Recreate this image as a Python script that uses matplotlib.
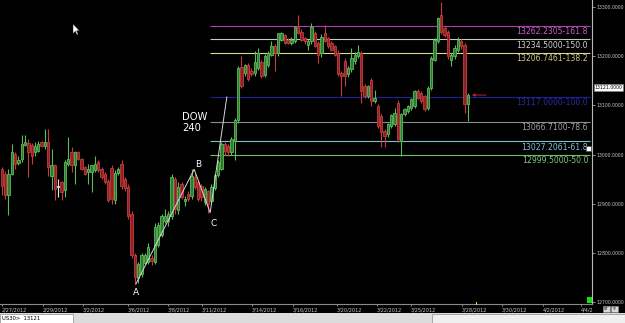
import matplotlib
matplotlib.use('Agg')
import matplotlib.pyplot as plt
import numpy as np
from matplotlib.patches import Rectangle, Polygon
from matplotlib.transforms import Bbox, TransformedBbox
from matplotlib.ticker import FormatStrFormatter

# ---------------- data (US30, H4) ----------------
opens = [12971, 12960, 12918, 12961, 13001, 12983, 12991, 13019, 13023, 13019,
         13005, 13008, 13025, 13018, 13025, 12957, 12978, 12934, 12944, 12927,
         12981, 13005, 12978, 13005, 12991, 12974, 12964, 12964, 12968, 12984,
         12971, 12961, 12947, 12973, 12908, 12963, 12980, 12950, 12935, 12880,
         12795, 12750, 12758, 12780, 12782, 12790, 12782, 12816, 12836, 12866,
         12866, 12876, 12950, 12888, 12940, 12905, 12920, 12915, 12955, 12944,
         12937, 12903, 12925, 12906, 12932, 12958, 12971, 13021, 13018, 13005,
         13027, 13071, 13179, 13166, 13183, 13170, 13166, 13176, 13189, 13162,
         13183, 13203, 13220, 13206, 13233, 13243, 13233, 13227, 13230, 13260,
         13250, 13237, 13222, 13230, 13247, 13227, 13206, 13247, 13237, 13227,
         13220, 13206, 13166, 13190, 13163, 13173, 13190, 13200, 13206, 13139,
         13120, 13152, 13109, 13099, 13078, 13048, 13041, 13058, 13062, 13105,
         13028, 13082, 13088, 13095, 13098, 13129, 13126, 13119, 13095, 13136,
         13193, 13230, 13284, 13257, 13250, 13193, 13200, 13213, 13230, 13223,
         13102]
highs = [12974, 12966, 12971, 13022, 13005, 12998, 13040, 13040, 13032, 13023,
         13025, 13027, 13028, 13052, 13053, 13011, 12981, 12951, 12947, 12988,
         13035, 13015, 13008, 13008, 12994, 12977, 12981, 12978, 12998, 12988,
         12974, 12964, 12950, 12978, 12968, 12975, 12988, 12955, 12940, 12885,
         12800, 12782, 12800, 12800, 12820, 12795, 12860, 12862, 12880, 12890,
         12885, 12960, 12955, 12945, 12945, 12915, 12925, 12970, 12962, 12948,
         12940, 12935, 12928, 12940, 12962, 12988, 13025, 13025, 13021, 13035,
         13075, 13180, 13200, 13185, 13186, 13175, 13210, 13216, 13193, 13205,
         13210, 13230, 13224, 13248, 13250, 13246, 13236, 13240, 13262, 13284,
         13255, 13240, 13235, 13268, 13252, 13230, 13245, 13264, 13240, 13230,
         13223, 13213, 13170, 13196, 13180, 13216, 13208, 13222, 13210, 13143,
         13142, 13156, 13132, 13102, 13082, 13052, 13065, 13082, 13094, 13110,
         13085, 13095, 13100, 13114, 13132, 13133, 13130, 13122, 13140, 13200,
         13236, 13280, 13310, 13262, 13254, 13206, 13222, 13240, 13234, 13227,
         13126]
lows = [12917, 12910, 12877, 12958, 12971, 12979, 12984, 13017, 12954, 12981,
        12998, 13005, 13015, 13012, 12957, 12927, 12907, 12914, 12907, 12914,
        12977, 12964, 12941, 12988, 12968, 12958, 12941, 12924, 12964, 12964,
        12950, 12940, 12904, 12900, 12900, 12958, 12930, 12925, 12870, 12790,
        12737, 12740, 12752, 12775, 12778, 12776, 12778, 12812, 12832, 12860,
        12855, 12870, 12880, 12880, 12910, 12895, 12905, 12910, 12930, 12905,
        12905, 12898, 12882, 12900, 12928, 12955, 12968, 13000, 12998, 13000,
        12990, 13065, 13135, 13160, 13150, 13160, 13160, 13172, 13155, 13158,
        13178, 13200, 13170, 13200, 13230, 13225, 13225, 13222, 13226, 13245,
        13230, 13225, 13213, 13225, 13218, 13186, 13198, 13228, 13217, 13210,
        13200, 13160, 13119, 13140, 13158, 13168, 13185, 13196, 13105, 13115,
        13116, 13099, 13104, 13055, 13015, 13015, 13036, 13055, 13058, 13025,
        12998, 13078, 13084, 13090, 13094, 13112, 13105, 13088, 13090, 13132,
        13190, 13226, 13245, 13238, 13195, 13180, 13195, 13208, 13215, 13085,
        13069]
closes = [12937, 12917, 12961, 13005, 12981, 12990, 13021, 13025, 13005, 12998,
          13018, 13021, 13018, 13025, 12974, 12978, 12931, 12934, 12924, 12984,
          12991, 12978, 13005, 12991, 12971, 12961, 12971, 12978, 12981, 12968,
          12954, 12944, 12907, 12910, 12963, 12970, 12937, 12932, 12876, 12795,
          12752, 12778, 12795, 12795, 12812, 12784, 12853, 12856, 12876, 12876,
          12880, 12954, 12890, 12935, 12913, 12910, 12910, 12957, 12934, 12910,
          12913, 12930, 12900, 12934, 12958, 12984, 13021, 13007, 13005, 13031,
          13071, 13176, 13139, 13183, 13153, 13163, 13189, 13206, 13160, 13200,
          13206, 13220, 13206, 13247, 13247, 13227, 13227, 13233, 13260, 13247,
          13233, 13230, 13230, 13260, 13220, 13203, 13240, 13230, 13220, 13213,
          13203, 13163, 13159, 13159, 13176, 13196, 13203, 13208, 13129, 13119,
          13139, 13109, 13115, 13058, 13045, 13038, 13062, 13080, 13085, 13031,
          13082, 13092, 13098, 13112, 13129, 13116, 13109, 13092, 13136, 13196,
          13233, 13277, 13250, 13243, 13200, 13203, 13217, 13233, 13220, 13102,
          13121]

date_labels = ['2/27/2012', '2/29/2012', '3/2/2012', '3/6/2012', '3/8/2012',
               '3/11/2012', '3/14/2012', '3/16/2012', '3/20/2012', '3/22/2012',
               '3/25/2012', '3/28/2012', '3/30/2012', '4/2/2012', '4/4/2012']
date_pos = [0, 12.3, 24.4, 37.9, 49.9, 60.1, 75.2, 87.5, 100.7, 112.7,
            122.9, 138.2, 150.2, 162.5, 174.0]

price_ticks = [12700, 12800, 12900, 13000, 13100, 13200, 13300]

fib_levels = [13262.2305, 13234.5000, 13206.7461, 13117.0000, 13066.7100, 13027.2061, 12999.5000]
fib_pcts = ['161.8', '150.0', '138.2', '100.0', '78.6', '61.8', '50.0']
fib_line_colors = ['#b040b0', '#c8c8c8', '#d8d890', '#20209a', '#8c8c8c', '#78c4c8', '#6cbc6c']
fib_text_colors = ['#c860c8', '#d0d0d0', '#c8c880', '#2a2aa8', '#a0a0a0', '#80c4d4', '#80c880']

pattern_x = [40.3, 57.8, 62.6, 67.6]
pattern_y = [12737, 12970, 12882, 13117]
last_price = 13121.0

# ---------------- figure ----------------
W, H = 625, 323
fig = plt.figure(figsize=(W / 100, H / 100), dpi=100, facecolor='black')
ax = fig.add_axes([0, 19 / H, 592 / W, 304 / H], facecolor='black')

O = np.array(opens, float); Hh = np.array(highs, float)
L = np.array(lows, float); C = np.array(closes, float)
x = np.arange(len(C))

edge_cols, face_cols = [], []
for o, c in zip(O, C):
    if c > o:
        edge_cols.append('#5cbc5c'); face_cols.append('#2f7a2f')
    elif c < o:
        edge_cols.append('#c83c3c'); face_cols.append('#8a2424')
    else:
        edge_cols.append('#e8e8e8'); face_cols.append('#e8e8e8')

ax.vlines(x, L, Hh, colors=edge_cols, lw=0.8, zorder=3)
ax.bar(x, np.maximum(np.abs(C - O), 1.5), bottom=np.minimum(O, C), width=0.7,
       color=face_cols, edgecolor=edge_cols, linewidth=0.6, zorder=4)

# fibonacci lines
x_end = 176.6
for lev, pct, lc, tc in zip(fib_levels, fib_pcts, fib_line_colors, fib_text_colors):
    ax.hlines(lev, pattern_x[2], x_end, colors=lc, lw=0.8, zorder=2)
    ax.annotate(f'{lev:.4f}-{pct}', xy=(x_end - 0.5, lev), xytext=(0, -1.0),
                textcoords='offset points', ha='right', va='top', color=tc,
                fontsize=5.6, zorder=5)

# ABC(D) pattern line
ax.plot(pattern_x, pattern_y, color='#d8d8d8', lw=0.7, zorder=6)
ax.annotate('A', xy=(pattern_x[0], pattern_y[0]), xytext=(0, -3), textcoords='offset points',
            ha='center', va='top', color='white', fontsize=6.5, zorder=7)
ax.annotate('B', xy=(pattern_x[1], pattern_y[1]), xytext=(3, 0.5), textcoords='offset points',
            ha='center', va='bottom', color='white', fontsize=6.5, zorder=7)
ax.annotate('C', xy=(pattern_x[2], pattern_y[2]), xytext=(2.5, -4.5), textcoords='offset points',
            ha='center', va='top', color='white', fontsize=6.5, zorder=7)
ax.text(54.1, 13086, 'DOW\n240', color='white', fontsize=7.2, ha='left', va='top',
        linespacing=1.05, zorder=7)

# last price arrow
ax.annotate('', xy=(141.2, last_price), xytext=(145.4, last_price),
            arrowprops=dict(arrowstyle='-|>', color='#c02424', lw=0.7,
                            mutation_scale=4, shrinkA=0, shrinkB=0), zorder=7)

# axes
ax.set_xlim(-0.51, 177.27)
ax.set_ylim(12696.3, 13314.2)
for s in ['left', 'top']:
    ax.spines[s].set_visible(False)
ax.spines['right'].set_color('#b8b8b8'); ax.spines['right'].set_linewidth(0.8)
ax.spines['bottom'].set_color('#8a8a8a'); ax.spines['bottom'].set_linewidth(0.8)

ax.yaxis.tick_right()
ax.set_yticks(price_ticks)
ax.yaxis.set_major_formatter(FormatStrFormatter('%.4f'))
ax.tick_params(axis='y', colors='#c8c8c8', labelsize=3.3, length=2.0, width=0.5, pad=1.0)

ax.set_xticks(date_pos)
ax.set_xticklabels(date_labels, ha='left')
ax.tick_params(axis='x', colors='#c8c8c8', labelsize=3.6, length=1.5, width=0.5, pad=1.2)
clipbox = TransformedBbox(Bbox.from_extents(0, 0, 592 / W, 1), fig.transFigure)
for lab in ax.get_xticklabels():
    lab.set_clip_box(clipbox)
    lab.set_clip_on(True)

# current price box on the price axis
ax.annotate(f'{last_price:.4f}', xy=(1.0, last_price), xycoords=('axes fraction', 'data'),
            xytext=(1.8, 5.5), textcoords='offset points', ha='left', va='center',
            fontsize=3.3, color='black', annotation_clip=False,
            bbox=dict(boxstyle='square,pad=0.2', fc='white', ec='#808080', lw=0.4))

# ---------------- decorations in pixel space ----------------
def frect(x0, y0, x1, y1, **kw):
    r = Rectangle((x0 / W, (H - y1) / H), (x1 - x0) / W, (y1 - y0) / H,
                  transform=fig.transFigure, **kw)
    fig.patches.append(r)
    return r

# status bar
frect(0, 313, 625, 323, facecolor='#dcdcdc', edgecolor='none')
frect(0, 313.5, 73, 323, facecolor='white', edgecolor='#8c8c8c', lw=0.5)
frect(432, 313.5, 625, 323, facecolor='#efefef', edgecolor='#8c8c8c', lw=0.5)
fig.text(2 / W, (H - 318) / H, 'US30>  13121', fontsize=3.8, color='black', va='center')

# markers near axes
frect(587, 297, 592, 303, facecolor='#10e010', edgecolor='none')
frect(475.5, 301.5, 477, 305, facecolor='#e8e020', edgecolor='none')
frect(586, 146, 591, 151, facecolor='white', edgecolor='#404040', lw=0.4)
for bx, t in [(603, 'ST'), (611, 'TF')]:
    frect(bx, 306, bx + 7, 312, facecolor='#d8d8d8', edgecolor='#909090', lw=0.4)
    fig.text((bx + 3.5) / W, (H - 309) / H, t, fontsize=2.6, color='black',
             ha='center', va='center')

# mouse cursor
cur = [(73, 24), (73, 33.5), (75.3, 31.3), (76.9, 34.8), (78.2, 34.2), (76.6, 30.8), (79.4, 30.8)]
fig.patches.append(Polygon([(px / W, (H - py) / H) for px, py in cur], closed=True,
                           transform=fig.transFigure, facecolor='white',
                           edgecolor='#202020', lw=0.3))

fig.savefig('out.png', dpi=100, facecolor='black')
